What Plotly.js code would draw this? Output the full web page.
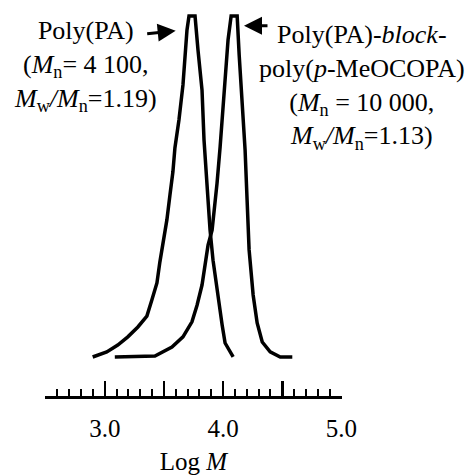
<!DOCTYPE html>
<html>
<head>
<meta charset="utf-8">
<script src="https://cdn.plot.ly/plotly-3.0.1.min.js"></script>
<style>html,body{margin:0;padding:0;background:#fff;}#chart{width:472px;height:476px;}</style>
</head>
<body>
<div id="chart"></div>
<script>
// Poly(PA) SEC trace: log M vs normalized intensity
var logM_PA = [2.898, 3.017, 3.110, 3.195, 3.280, 3.356, 3.398, 3.441, 3.466, 3.492, 3.525, 3.551, 3.576, 3.593, 3.627, 3.661, 3.678, 3.695, 3.712, 3.737, 3.763, 3.788, 3.822, 3.839, 3.864, 3.890, 3.915, 3.932, 3.958, 3.992, 4.017, 4.085];
var int_PA  = [0, 1.5, 3.5, 5.9, 8.8, 12.0, 16.7, 21.7, 27.9, 32.8, 40.2, 47.5, 54.3, 61.3, 69.5, 79.8, 88.6, 95.9, 100, 100, 100, 90.0, 78.3, 63.6, 50.4, 37.2, 28.4, 24.0, 16.7, 9.4, 4.1, 0];

// Poly(PA)-block-poly(p-MeOCOPA) SEC trace
var logM_BL = [3.085, 3.424, 3.568, 3.661, 3.737, 3.780, 3.822, 3.847, 3.873, 3.907, 3.924, 3.949, 3.975, 4.000, 4.025, 4.042, 4.068, 4.093, 4.119, 4.136, 4.161, 4.186, 4.203, 4.220, 4.254, 4.288, 4.331, 4.398, 4.483, 4.585];
var int_BL  = [0, 0.3, 2.9, 5.9, 10.3, 15.2, 21.1, 27.6, 32.8, 37.2, 42.5, 51.0, 61.6, 72.4, 84.2, 93.0, 100, 100, 100, 88.6, 75.4, 60.7, 46.0, 31.4, 18.2, 10.0, 4.4, 1.5, 0, 0];

var xRange = [2.495, 5.005];
var tickVals = [2.5, 3.0, 3.5, 4.0, 4.5, 5.0];
var tickText = ['', '3.0', '', '4.0', '', '5.0'];
var minorStep = 0.1;

var labelPA = 'Poly(PA)<br>(<i>M</i><sub>n</sub>= 4 100,<br><i>M</i><sub>w</sub><i>/</i><i>M</i><sub>n</sub>=1.19)';
var labelBL = 'Poly(PA)-<i>block</i>-<br>poly(<i>p</i>-MeOCOPA)<br>(<i>M</i><sub>n</sub> = 10 000,<br><i>M</i><sub>w</sub><i>/</i><i>M</i><sub>n</sub>=1.13)';

var serif = 'Liberation Serif, Times New Roman, serif';

var traces = [
  {x: logM_PA, y: int_PA, mode: 'lines', line: {color: '#000', width: 3.5}, hoverinfo: 'skip', name: 'Poly(PA)'},
  {x: logM_BL, y: int_BL, mode: 'lines', line: {color: '#000', width: 3.5}, hoverinfo: 'skip', name: 'block'},
  {x: [], y: [], xaxis: 'x2', yaxis: 'y', mode: 'lines', hoverinfo: 'skip', showlegend: false}
];

var layout = {
  width: 472, height: 476,
  margin: {l: 45, r: 130, t: 10, b: 80, pad: 0},
  paper_bgcolor: '#fff', plot_bgcolor: '#fff',
  showlegend: false,
  font: {family: serif, color: '#000'},
  xaxis: {
    range: xRange,
    showline: true, linecolor: '#000', linewidth: 3,
    showgrid: false, zeroline: false,
    tickmode: 'array', tickvals: tickVals, ticktext: tickText,
    ticks: 'inside', ticklen: 15, tickwidth: 2.5, tickcolor: '#000',
    tickfont: {family: serif, size: 25, color: '#000'},
    ticklabelstandoff: 8,
    title: {text: 'Log <i>M</i>', font: {family: serif, size: 25, color: '#000'}, standoff: 12}
  },
  xaxis2: {
    range: xRange, overlaying: 'x', anchor: 'y', side: 'bottom',
    showline: false, showgrid: false, zeroline: false,
    tickmode: 'linear', tick0: 2.5, dtick: minorStep,
    ticks: 'inside', ticklen: 7, tickwidth: 2, tickcolor: '#000',
    showticklabels: false
  },
  yaxis: {
    range: [-11.44, 101.76],
    visible: false, showgrid: false, zeroline: false
  },
  annotations: [
    {xref: 'paper', yref: 'paper', x: 0.135, y: 0.855, xanchor: 'center', yanchor: 'middle', align: 'center',
     text: labelPA, showarrow: false, font: {family: serif, size: 26, color: '#000'}},
    {xref: 'paper', yref: 'paper', x: 1.066, y: 0.800, xanchor: 'center', yanchor: 'middle', align: 'center',
     text: labelBL, showarrow: false, font: {family: serif, size: 26, color: '#000'}},
    {xref: 'paper', yref: 'paper', x: 0.440, y: 0.946, text: '', showarrow: true, ax: -30, ay: 3,
     arrowhead: 2, arrowsize: 1.2, arrowwidth: 3, arrowcolor: '#000'},
    {xref: 'paper', yref: 'paper', x: 0.670, y: 0.959, text: '', showarrow: true, ax: 25, ay: 0,
     arrowhead: 2, arrowsize: 1.2, arrowwidth: 3, arrowcolor: '#000'}
  ]
};

Plotly.newPlot('chart', traces, layout, {staticPlot: true, displayModeBar: false});
</script>
</body>
</html>
